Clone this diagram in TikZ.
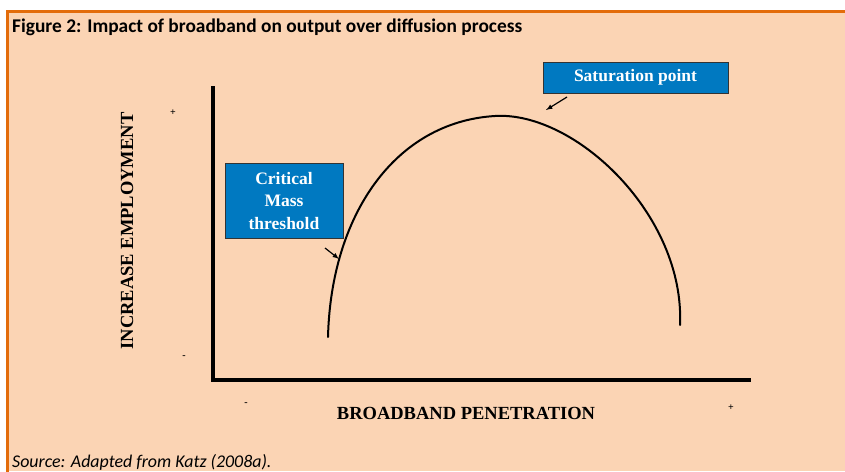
\documentclass[tikz,border=0pt]{standalone}
\usepackage{fontspec}
\setmainfont{Liberation Serif}
\newfontfamily\calibri{Carlito}
\definecolor{peach}{HTML}{FBD4B4}
\definecolor{frameorange}{HTML}{E36C0A}
\definecolor{boxblue}{HTML}{0079C1}
\tikzset{
    labelbox/.style={draw=black!80, line width=0.8pt, fill=boxblue, text=white, font=\fontsize{17.5}{22.5}\selectfont\bfseries, align=center, inner sep=3pt},
    axis/.style={line width=4.5pt, line cap=rect},
    pointer/.style={-latex, line width=1.2pt}
}
\begin{document}
\begin{tikzpicture}[x=1pt, y=-1pt]
    \useasboundingbox (0,0) rectangle (845,471);
    \begin{scope}[]
    % Background panel
    \fill[white] (0,0) rectangle (845,471);
    \fill[peach] (7,11) rectangle (845,471);
    \draw[frameorange, line width=3pt] (7,475) -- (7,11) -- (845,11);
    % Title and source
    \node[anchor=west, inner sep=0pt] (title) at (12,27) {\calibri\fontsize{19.4}{22}\selectfont\bfseries Figure 2: Impact of broadband on output over diffusion process};
    \node[anchor=west, inner sep=0pt] (source) at (12,462) {\calibri\fontsize{17.9}{20}\selectfont\itshape Source: Adapted from Katz (2008a).};
    % Axes
    \coordinate (ytop) at (213,88);
    \coordinate (origin) at (213,380);
    \coordinate (xend) at (749,380);
    \draw[axis] (ytop) -- (origin) -- (xend);
    % Axis labels
    \node[rotate=90, font=\fontsize{18.5}{21}\selectfont\bfseries] (ylabel) at (127,231) {INCREASE EMPLOYMENT};
    \node[font=\fontsize{18.5}{21}\selectfont\bfseries] (xlabel) at (466,413) {BROADBAND PENETRATION};
    % Signs at the ends of the axes
    \foreach \x/\y/\s in {173/113/+, 184/357/-, 246/404/-, 731/408/+}
    {
        \node[font=\fontsize{10}{10}\selectfont\bfseries, inner sep=0pt] at (\x,\y) {\s};
    }
    % Diffusion curve
    \coordinate (start) at (328,337);
    \coordinate (peak) at (495,116);
    \coordinate (stop) at (680,325);
    \draw[line width=2pt, line cap=round] (start) .. controls (331,215) and (395,122) .. (peak)
        .. controls (575,111) and (685,215) .. (stop);
    % Boxes with pointers
    \node[labelbox, minimum width=118pt, minimum height=75pt] (critical) at (284,201) {Critical\\Mass\\threshold};
    \node[labelbox, minimum width=185pt, minimum height=31pt] (saturation) at (635.5,77.5) {Saturation point};
    \coordinate (critfrom) at (325,248);
    \coordinate (critto) at (339,259);
    \coordinate (satfrom) at (567,97);
    \coordinate (satto) at (546,110);
    \draw[pointer] (critfrom) -- (critto);
    \draw[pointer] (satfrom) -- (satto);
    \end{scope}
\end{tikzpicture}
\end{document}
